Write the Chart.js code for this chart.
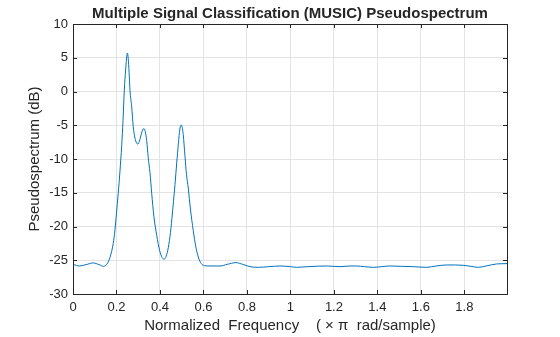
<!DOCTYPE html>
<html>
<head>
<meta charset="utf-8">
<title>MUSIC Pseudospectrum</title>
<script src="https://cdn.jsdelivr.net/npm/chart.js@4/dist/chart.umd.min.js"></script>
<style>
  html, body { margin: 0; padding: 0; background: #ffffff; }
  #wrap { width: 560px; height: 337px; }
</style>
</head>
<body>
<div id="wrap"><canvas id="musicChart" width="560" height="337"></canvas></div>
<script>
// normalized frequency (x pi rad/sample)
const freq = [
  0.000, 0.030, 0.060, 0.093, 0.120, 0.140, 0.155, 0.170, 0.185, 0.193,
  0.200, 0.208, 0.216, 0.224, 0.230, 0.236, 0.242, 0.246, 0.250, 0.254,
  0.258, 0.262, 0.270, 0.277, 0.285, 0.292, 0.298, 0.305, 0.314, 0.320,
  0.326, 0.332, 0.339, 0.346, 0.354, 0.362, 0.372, 0.385, 0.398, 0.410,
  0.418, 0.426, 0.436, 0.446, 0.455, 0.462, 0.469, 0.477, 0.485, 0.491,
  0.497, 0.502, 0.507, 0.515, 0.522, 0.530, 0.540, 0.553, 0.565, 0.576,
  0.590, 0.605, 0.630, 0.676, 0.710, 0.749, 0.780, 0.814, 0.852, 0.900,
  0.952, 1.000, 1.028, 1.080, 1.166, 1.228, 1.274, 1.304, 1.340, 1.381,
  1.420, 1.457, 1.510, 1.565, 1.626, 1.670, 1.718, 1.760, 1.795, 1.830,
  1.864, 1.900, 1.948, 1.996
];

// pseudospectrum (dB)
const pseudo = [
  -25.6, -25.85, -25.65, -25.4, -25.65, -25.9, -25.6, -24.6, -22.5, -20.5,
  -18.0, -15.1, -11.8, -8.0, -4.3, 0.2, 3.2, 4.8, 5.7, 4.9,
  2.8, 0.2, -2.3, -5.2, -6.9, -7.6, -7.8, -7.4, -6.3, -5.7,
  -5.5, -5.9, -7.3, -9.8, -12.0, -15.1, -18.5, -21.3, -23.5, -24.6,
  -24.85, -24.6, -23.5, -21.5, -18.8, -16.3, -13.8, -10.6, -7.6, -5.7,
  -4.95, -5.3, -6.4, -9.6, -12.3, -14.3, -17.4, -20.6, -23.0, -24.5,
  -25.5, -25.8, -25.85, -25.85, -25.6, -25.35, -25.6, -25.95, -26.05, -25.95,
  -25.85, -25.95, -26.05, -25.95, -25.85, -25.95, -25.85, -25.85, -25.95, -26.05,
  -25.95, -25.85, -25.9, -25.95, -26.05, -25.85, -25.7, -25.7, -25.75, -25.9,
  -26.05, -25.85, -25.55, -25.5
];

const xTicks = [0, 0.2, 0.4, 0.6, 0.8, 1, 1.2, 1.4, 1.6, 1.8];
const yTicks = [-30, -25, -20, -15, -10, -5, 0, 5, 10];

const TITLE = 'Multiple Signal Classification (MUSIC) Pseudospectrum';
const FONT = 'Liberation Sans, Arial, Helvetica, sans-serif';
const INK = '#262626';

// axes box, small inward tick marks, and the title centred over the plot
const boxTicks = {
  id: 'boxTicks',
  afterDatasetsDraw(chart) {
    const { ctx, chartArea: a, scales } = chart;
    ctx.save();
    ctx.strokeStyle = INK;
    ctx.lineWidth = 1;
    ctx.beginPath();
    xTicks.forEach(v => {
      const px = Math.round(scales.x.getPixelForValue(v)) + 0.5;
      ctx.moveTo(px, a.bottom); ctx.lineTo(px, a.bottom - 4);
      ctx.moveTo(px, a.top); ctx.lineTo(px, a.top + 4);
    });
    yTicks.forEach(v => {
      const py = Math.round(scales.y.getPixelForValue(v)) + 0.5;
      ctx.moveTo(a.left, py); ctx.lineTo(a.left + 4, py);
      ctx.moveTo(a.right, py); ctx.lineTo(a.right - 4, py);
    });
    ctx.stroke();
    ctx.strokeRect(Math.round(a.left) + 0.5, Math.round(a.top) + 0.5,
      Math.round(a.right - a.left), Math.round(a.bottom - a.top));

    ctx.fillStyle = INK;
    ctx.font = 'bold 15px ' + FONT;
    ctx.textAlign = 'center';
    ctx.textBaseline = 'middle';
    ctx.fillText(TITLE, (a.left + a.right) / 2, 14);
    ctx.restore();
  }
};

new Chart(document.getElementById('musicChart'), {
  type: 'line',
  data: {
    datasets: [{
      data: freq.map((f, i) => ({ x: f, y: pseudo[i] })),
      borderColor: '#0072BD',
      borderWidth: 1,
      pointRadius: 0,
      fill: false,
      cubicInterpolationMode: 'monotone'
    }]
  },
  options: {
    responsive: false,
    animation: false,
    layout: { padding: { left: 0, right: 53, top: 24, bottom: 0 } },
    plugins: {
      legend: { display: false },
      tooltip: { enabled: false },
      title: { display: false }
    },
    scales: {
      x: {
        type: 'linear',
        min: 0,
        max: 1.996,
        afterFit: s => { s.height = 43; },
        afterBuildTicks: s => { s.ticks = xTicks.map(v => ({ value: v })); },
        ticks: {
          color: INK,
          padding: 6,
          maxRotation: 0,
          font: { family: FONT, size: 13 },
          callback: v => String(+v.toFixed(1))
        },
        grid: { color: '#e3e3e3', drawTicks: false },
        border: { display: false },
        title: {
          display: true,
          text: 'Normalized  Frequency    ( \u00d7 \u03c0  rad/sample)',
          color: INK,
          font: { family: FONT, size: 15 },
          padding: { top: 0, bottom: 2 }
        }
      },
      y: {
        min: -30,
        max: 10,
        afterFit: s => { s.width = 73; },
        afterBuildTicks: s => { s.ticks = yTicks.map(v => ({ value: v })); },
        ticks: {
          color: INK,
          padding: 5,
          font: { family: FONT, size: 13 }
        },
        grid: { color: '#e3e3e3', drawTicks: false },
        border: { display: false },
        title: {
          display: true,
          text: 'Pseudospectrum (dB)',
          color: INK,
          font: { family: FONT, size: 15 },
          padding: { top: 26, bottom: 0 }
        }
      }
    }
  },
  plugins: [boxTicks]
});
</script>
</body>
</html>
